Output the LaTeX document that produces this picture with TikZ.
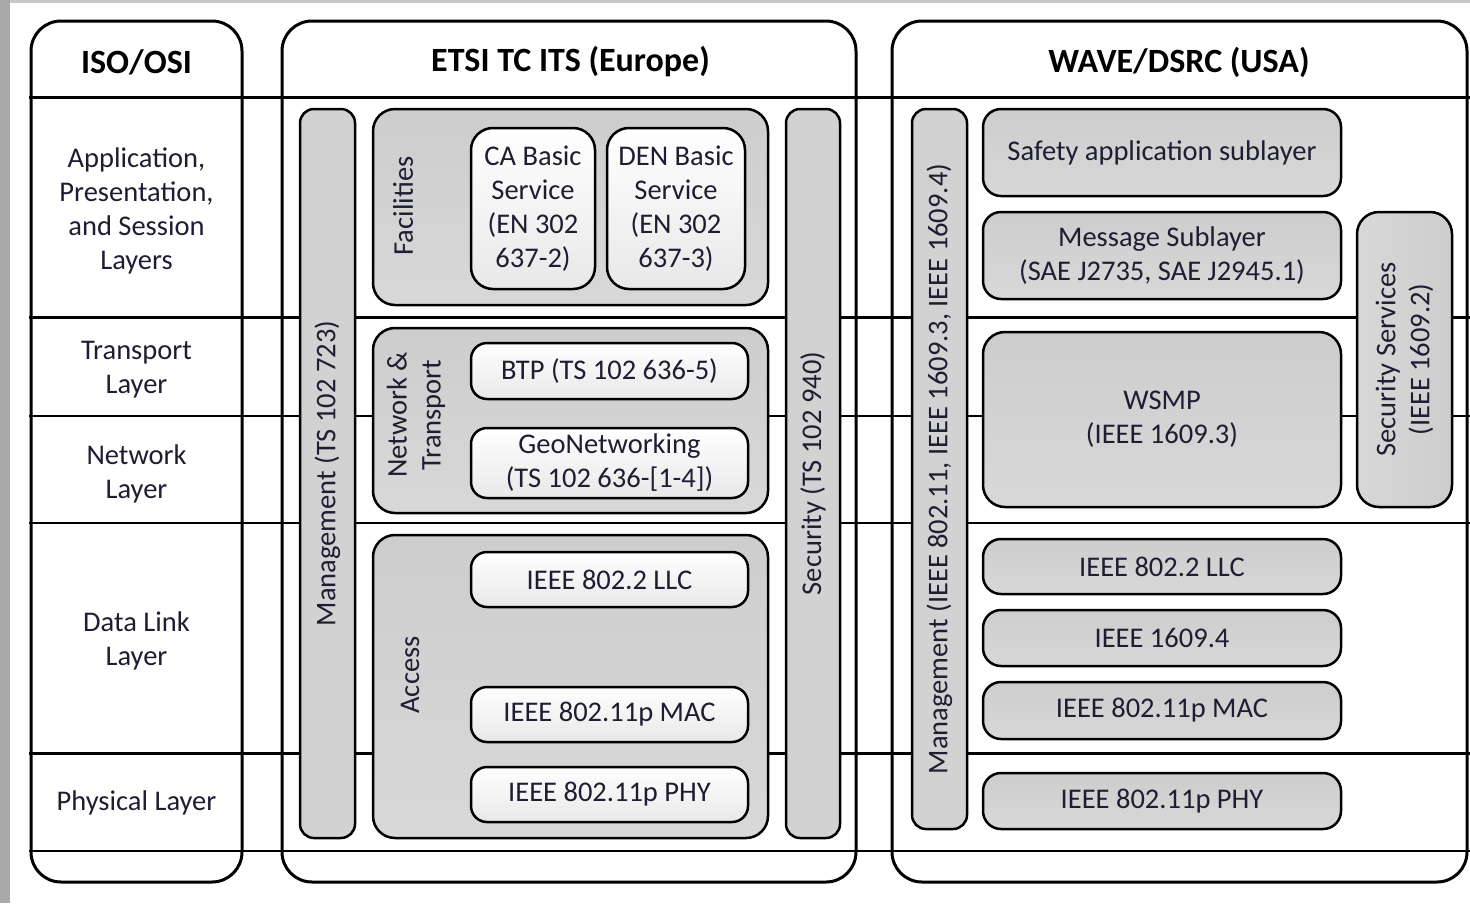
\documentclass[tikz,border=0pt]{standalone}
\usepackage{fontspec}
\setmainfont{Carlito}
\definecolor{txt}{HTML}{1E1E32}
\definecolor{boxgray}{HTML}{D2D2D2}
\definecolor{boxgraytop}{HTML}{CDCDCD}
\definecolor{boxgraybot}{HTML}{D8D8D8}
\definecolor{wboxbot}{HTML}{E8E8E8}
\definecolor{edge}{HTML}{A9A9A9}
\definecolor{edgetop}{HTML}{C8C8C8}
\newcommand{\bodyfont}{\fontsize{28.5}{34}\selectfont}
\tikzset{
  colbox/.style={draw, line width=3pt, rounded corners=30pt, fill=white, inner sep=0pt},
  gbar/.style={draw, line width=2.5pt, rounded corners=14pt, fill=boxgray, inner sep=0pt,
    text=txt, font=\bodyfont, align=center},
  gbox/.style={draw, line width=2.5pt, rounded corners=18pt, top color=boxgraytop, bottom color=boxgraybot,
    inner sep=0pt, text=txt, font=\bodyfont, align=center},
  wbox/.style={draw, line width=2.5pt, rounded corners=16pt, top color=white, bottom color=wboxbot,
    inner sep=0pt, text=txt, font=\bodyfont, align=center},
  lbl/.style={text=txt, font=\bodyfont, align=center, inner sep=0pt},
  head/.style={text=black, font=\bfseries\fontsize{34}{40}\selectfont, inner sep=0pt},
  rule/.style={line width=#1},
  rule/.default=2pt
}
\begin{document}
\begin{tikzpicture}[x=1pt,y=-1pt]
\useasboundingbox (0,0) rectangle (1470,903);
\fill[white] (0,0) rectangle (1470,903);
\fill[edgetop] (0,0) rectangle (1470,3);
\fill[edge] (0,0) rectangle (10,903);

% three columns
\node[colbox, minimum width=211pt, minimum height=861pt] (iso)  at (136.5,451.5) {};
\node[colbox, minimum width=574pt, minimum height=861pt] (etsi) at (569,451.5) {};
\node[colbox, minimum width=575pt, minimum height=861pt] (wave) at (1179.5,451.5) {};

\node[head] (isohead)  at (136.5,62) {ISO/OSI};
\node[head] (etsihead) at (570.5,62) {ETSI TC ITS (Europe)};
\node[head] (wavehead) at (1179,62) {WAVE/DSRC (USA)};

% layer boundaries across all columns
\coordinate (L) at (29,0);
\coordinate (R) at (1470,0);
\draw[rule=3pt]   (L |- 0,97)  -- (R |- 0,97);
\draw[rule=3pt]   (L |- 0,317) -- (R |- 0,317);
\draw[rule=2pt]   (L |- 0,416) -- (R |- 0,416);
\draw[rule=2.5pt] (L |- 0,523) -- (R |- 0,523);
\draw[rule=3pt]   (L |- 0,753) -- (R |- 0,753);
\draw[rule=2pt]   (L |- 0,851) -- (R |- 0,851);

% ISO/OSI layer names
\node[lbl] (osi7) at (136.5,211) {Application,\\Presentation,\\and Session\\Layers};
\node[lbl] (osi4) at (136.5,370) {Transport\\Layer};
\node[lbl] (osi3) at (136.5,474) {Network\\Layer};
\node[lbl] (osi2) at (136.5,641) {Data Link\\Layer};
\node[lbl] (osi1) at (136.5,803) {Physical Layer};

% ETSI stack
\node[gbar, rotate=90, minimum width=729pt, minimum height=55pt] (emgmt) at (327.5,473.5) {Management (TS 102 723)};
\node[gbar, rotate=90, minimum width=729pt, minimum height=54pt] (esec) at (813,473.5) {Security (TS 102 940)};

\node[gbox, rounded corners=22pt, minimum width=395pt, minimum height=196pt] (fac) at (570.5,207) {};
\node[lbl, rotate=90] (faclbl) at (403,206) {Facilities};
\node[wbox, rounded corners=22pt, minimum width=124pt, minimum height=161pt] (ca) at (533,208.5) {CA Basic\\Service\\(EN 302\\637-2)};
\node[wbox, rounded corners=22pt, minimum width=138pt, minimum height=161pt] (den) at (676,208.5) {DEN Basic\\Service\\(EN 302\\637-3)};

\node[gbox, rounded corners=22pt, minimum width=395pt, minimum height=185pt] (nt) at (570.5,420.5) {};
\node[lbl, rotate=90] (ntlbl) at (416,415) {Network \&\\Transport};
\node[wbox, minimum width=277pt, minimum height=56pt] (btp) at (609.5,371) {BTP (TS 102 636-5)};
\node[wbox, minimum width=277pt, minimum height=70pt] (geo) at (609.5,463) {GeoNetworking\\(TS 102 636-[1-4])};

\node[gbox, rounded corners=22pt, minimum width=395pt, minimum height=303pt] (acc) at (570.5,686.5) {};
\node[lbl, rotate=90] (acclbl) at (410,675) {Access};
\node[wbox, minimum width=277pt, minimum height=55pt] (ellc) at (609.5,579.5) {IEEE 802.2 LLC};
\node[wbox, minimum width=277pt, minimum height=55pt] (emac) at (609.5,714.5) {IEEE 802.11p MAC};
\node[wbox, minimum width=277pt, minimum height=55pt] (ephy) at (609.5,794.5) {IEEE 802.11p PHY};

% WAVE stack
\node[gbar, rotate=90, minimum width=720pt, minimum height=55pt] (wmgmt) at (939.5,469) {Management (IEEE 802.11, IEEE 1609.3, IEEE 1609.4)};
\node[gbox, minimum width=358pt, minimum height=87pt] (safety) at (1162,152.5) {Safety application sublayer};
\node[gbox, minimum width=358pt, minimum height=87pt] (msg) at (1162,255.5) {Message Sublayer\\(SAE J2735, SAE J2945.1)};
\node[gbox, rounded corners=22pt, minimum width=358pt, minimum height=175pt] (wsmp) at (1162,419.5) {WSMP\\(IEEE 1609.3)};
\node[gbox, rotate=90, rounded corners=22pt, left color=boxgraybot, right color=boxgraytop,
      minimum width=295pt, minimum height=95pt] (secserv) at (1404.5,359.5) {Security Services\\(IEEE 1609.2)};
\node[gbox, minimum width=358pt, minimum height=55pt] (wllc) at (1162,566.5) {IEEE 802.2 LLC};
\node[gbox, minimum width=358pt, minimum height=56pt] (w1609) at (1162,638) {IEEE 1609.4};
\node[gbox, minimum width=358pt, minimum height=57pt] (wmac) at (1162,710.5) {IEEE 802.11p MAC};
\node[gbox, minimum width=358pt, minimum height=56pt] (wphy) at (1162,801) {IEEE 802.11p PHY};
\end{tikzpicture}
\end{document}
